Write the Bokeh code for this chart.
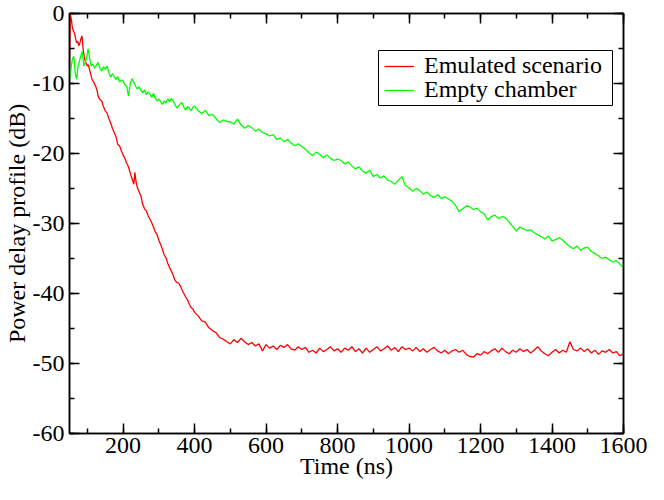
from bokeh.plotting import figure
from bokeh.models import (Range1d, LinearAxis, SingleIntervalTicker, Legend, LegendItem,
                          PrintfTickFormatter, BoxAnnotation)
from bokeh.embed import file_html
from bokeh.resources import INLINE

# ---------------- data ----------------
x_ticks_interval = 200
y_ticks_interval = 10

green_t = [50, 54, 58, 62, 66, 70, 74, 78, 82, 86,
           90, 94, 98, 102, 106, 110, 115, 120, 125, 130,
           135, 140, 145, 150, 155, 160, 165, 170, 175, 180,
           185, 190, 195, 200, 205, 210, 215, 220, 225, 230,
           235, 240, 245, 250, 255, 260, 265, 270, 275, 280,
           285, 290, 295, 300, 305, 310, 315, 320, 325, 330,
           335, 340, 345, 350, 355, 360, 365, 370, 375, 380,
           385, 390, 395, 400, 410, 420, 430, 440, 450, 460] + list(range(470, 1601, 10))
green_db = [-9.6, -8.0, -6.5, -6.1, -8.5, -9.4, -7.5, -6.8, -6.0, -5.4,
            -7.5, -7.0, -6.3, -5.0, -6.2, -7.5, -7.2, -7.8, -7.4, -7.0,
            -7.8, -8.2, -7.6, -8.0, -7.5, -8.4, -9.1, -8.6, -9.0, -9.4,
            -9.0, -9.8, -9.5, -9.6, -10.2, -10.4, -11.8, -10.0, -9.3, -9.8,
            -10.4, -10.8, -10.5, -11.0, -11.3, -10.9, -11.6, -11.2, -11.5, -12.0,
            -11.4, -12.1, -12.5, -12.2, -12.6, -13.0, -12.5, -12.8, -12.2, -12.6,
            -12.1, -12.5, -13.0, -13.5, -13.2, -12.9, -12.7, -13.4, -13.8, -13.3,
            -13.5, -13.9, -13.4, -13.2, -13.9, -14.3, -13.8, -14.6, -14.4, -15.0,
            -15.6, -15.2, -15.4, -15.5, -15.8, -15.1, -15.9, -16.4, -16.0, -16.3,
            -16.8, -16.5, -17.0, -17.2, -17.5, -17.3, -18.0, -17.8, -18.3, -18.0,
            -18.5, -18.9, -18.6, -19.0, -19.4, -19.9, -20.3, -19.8, -20.1, -20.6,
            -20.2, -20.7, -21.0, -20.8, -21.0, -21.5, -21.2, -21.8, -22.2, -21.9,
            -22.5, -22.8, -22.4, -23.3, -23.0, -23.5, -23.2, -23.8, -24.0, -24.4,
            -23.8, -23.3, -24.6, -24.9, -25.4, -25.0, -25.3, -25.8, -25.5, -26.0,
            -26.3, -25.9, -26.4, -26.2, -26.5, -26.8, -27.4, -28.3, -27.9, -27.5,
            -27.6, -28.0, -27.8, -28.3, -28.6, -29.5, -29.0, -28.8, -29.3, -29.0,
            -29.2, -29.8, -30.4, -31.1, -30.5, -30.8, -31.0, -30.9, -31.3, -31.6,
            -31.9, -32.2, -31.8, -32.5, -32.3, -32.0, -32.4, -32.9, -33.3, -33.6,
            -33.2, -33.8, -33.5, -33.4, -34.0, -34.3, -34.6, -35.0, -34.8, -35.2,
            -35.5, -35.3, -35.8, -36.3]

red_t = [50, 52, 55, 58, 61, 64, 67, 70, 73, 76,
         79, 82, 85, 88, 91, 94, 97, 100, 103, 106,
         109, 112, 115, 118, 121, 124, 127, 130, 135, 140,
         145, 150, 155, 160, 165, 170, 175, 180, 185, 190,
         195, 200, 205, 210, 215, 220, 225, 230, 233, 236,
         240, 245, 250, 255, 260, 265, 270, 275, 280, 285,
         290, 295, 300, 305, 310, 315, 320, 325, 330, 335,
         340, 345, 350, 355, 360, 365, 370, 375, 380, 385,
         390, 395, 400] + list(range(410, 1601, 10))
red_db = [-8.0, 0.0, -0.8, -2.0, -2.5, -2.8, -3.6, -4.2, -4.0, -4.6,
          -4.2, -3.6, -3.2, -5.0, -6.1, -6.8, -7.2, -7.5, -7.3, -8.0,
          -8.6, -9.2, -9.6, -9.8, -10.2, -10.5, -11.0, -11.8, -12.3, -12.5,
          -13.3, -13.9, -14.2, -15.0, -15.6, -16.4, -17.0, -17.6, -18.7, -18.9,
          -19.6, -20.2, -20.7, -21.4, -21.9, -22.8, -23.6, -24.4, -22.7, -24.0,
          -24.9, -25.5, -26.1, -27.3, -27.9, -28.2, -28.9, -29.4, -29.9, -30.5,
          -31.2, -31.6, -32.4, -33.0, -33.7, -34.5, -34.9, -35.7, -36.3, -36.8,
          -37.4, -38.1, -38.4, -38.5, -38.9, -39.5, -40.0, -40.5, -40.9, -41.5,
          -42.0, -42.2, -42.7,
          -43.2, -43.9, -44.1, -44.9, -45.3, -45.6, -46.3, -46.5, -46.9, -47.2,
          -46.6, -47.0, -46.4, -46.9, -47.3, -47.0, -47.5, -47.2, -48.2, -47.3,
          -47.8, -47.5, -48.0, -47.4, -47.7, -47.3, -47.9, -48.1, -47.6, -48.0,
          -47.7, -48.4, -48.1, -48.5, -47.8, -48.3, -48.0, -47.6, -48.2, -47.9,
          -48.4, -47.8, -48.1, -47.6, -48.3, -47.9, -48.5, -47.8, -48.4, -48.0,
          -47.6, -48.2, -47.9, -47.5, -48.1, -47.7, -48.3, -47.6, -48.0, -47.8,
          -48.2, -47.7, -48.3, -47.9, -48.4, -48.0, -47.7, -48.2, -48.5, -48.1,
          -48.6, -48.2, -48.0, -48.4, -48.1, -48.7, -49.0, -49.1, -48.6, -48.8,
          -48.3, -48.6, -48.2, -47.9, -48.4, -47.8, -48.3, -48.6, -48.1, -48.4,
          -47.9, -48.3, -48.0, -48.5, -48.1, -47.6, -48.2, -48.6, -48.9, -48.4,
          -48.0, -48.5, -48.1, -48.4, -46.9, -48.0, -48.2, -47.8, -48.3, -47.9,
          -48.5, -48.1, -48.7, -48.2, -48.4, -48.0, -48.5, -48.3, -48.9, -48.6]

assert len(green_t) == len(green_db)
assert len(red_t) == len(red_db)

series_labels = ["Emulated scenario", "Empty chamber"]
x_title = "Time (ns)"
y_title = "Power delay profile (dB)"

# ---------------- figure ----------------
FONT = "Liberation Serif"
W, H = 648, 484
BL, BR, BT, BB = 67, 25, 13, 51
FRAME_BOTTOM = H - BB  # 433 in canvas pixels

p = figure(width=W, height=H, output_backend="svg", toolbar_location=None,
           x_range=Range1d(50, 1600), y_range=Range1d(-60, 0),
           min_border_left=BL, min_border_right=BR, min_border_top=BT, min_border_bottom=BB)
p.xgrid.visible = False
p.ygrid.visible = False
p.background_fill_color = "white"
p.border_fill_color = "white"
p.outline_line_color = "black"
p.outline_line_width = 1.5


def style_axis(ax, interval, labels=True, standoff=2):
    ax.ticker = SingleIntervalTicker(interval=interval, num_minor_ticks=2)
    ax.formatter = PrintfTickFormatter(format="%d")
    ax.major_tick_in = 10
    ax.major_tick_out = 0
    ax.minor_tick_in = 5
    ax.minor_tick_out = 0
    ax.axis_line_color = "black"
    ax.axis_line_width = 1.5
    ax.major_tick_line_color = "black"
    ax.major_tick_line_width = 1.5
    ax.minor_tick_line_color = "black"
    ax.minor_tick_line_width = 1.5
    ax.major_label_standoff = standoff
    if labels:
        ax.major_label_text_font = FONT
        ax.major_label_text_font_size = "24px"
        ax.major_label_text_color = "black"
        ax.axis_label_text_font = FONT
        ax.axis_label_text_font_size = "24px"
        ax.axis_label_text_font_style = "normal"
        ax.axis_label_text_color = "black"
    else:
        ax.major_label_text_font_size = "1px"
        ax.major_label_text_alpha = 0
        ax.major_label_standoff = 0


xa = p.xaxis[0]
style_axis(xa, x_ticks_interval, True, 4)
xa.axis_label = x_title
xa.axis_label_standoff = -3

ya = p.yaxis[0]
style_axis(ya, y_ticks_interval, True, 5)
ya.axis_label = y_title
ya.axis_label_standoff = 0

top = LinearAxis()
style_axis(top, x_ticks_interval, False)
p.add_layout(top, "above")
right = LinearAxis()
style_axis(right, y_ticks_interval, False)
p.add_layout(right, "right")

r_red = p.line(red_t, red_db, line_color="#ff0000", line_width=1.3)
r_green = p.line(green_t, green_db, line_color="#00ff00", line_width=1.3)

# legend frame (canvas pixels: x 376..610, y 50..105), in frame-relative screen units
box_left, box_right = 376 - BL, 610 - BL
box_top, box_bottom = FRAME_BOTTOM - 50, FRAME_BOTTOM - 105
p.add_layout(BoxAnnotation(left=box_left, right=box_right, top=box_top, bottom=box_bottom,
                           left_units="screen", right_units="screen",
                           top_units="screen", bottom_units="screen",
                           fill_color="white", fill_alpha=1,
                           line_color="black", line_width=1, line_alpha=1))

row_centers = [65, 89]  # canvas y of each legend row
for label, rend, cy in zip(series_labels, [r_red, r_green], row_centers):
    lg = Legend(items=[LegendItem(label=label, renderers=[rend])],
                location=(382 - BL, FRAME_BOTTOM - (cy + 14)), margin=0, padding=0, spacing=0,
                glyph_width=30, glyph_height=20, label_height=20, label_standoff=10,
                label_text_font=FONT, label_text_font_size="24px", label_text_color="black",
                border_line_color=None, background_fill_alpha=0)
    p.add_layout(lg)

open("out.html", "w").write(file_html(p, INLINE))
